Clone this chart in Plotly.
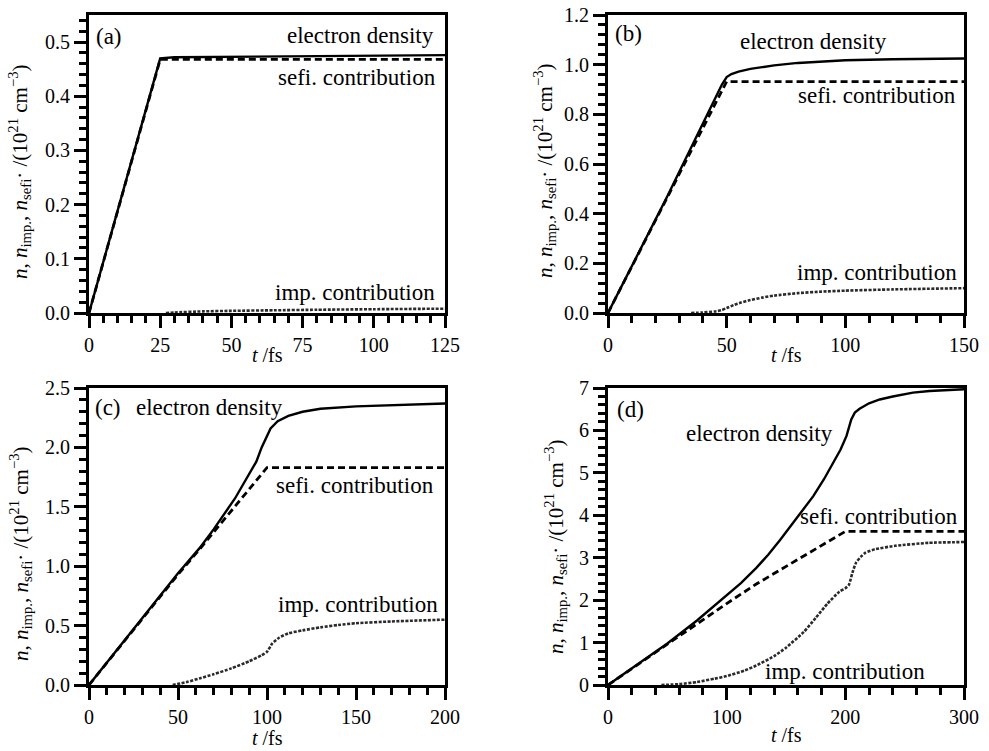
import plotly.graph_objects as go

# ---------------- data ----------------
# panel (a)
t_a_e = [0, 25, 30, 50, 75, 100, 125]
ne_a = [0, 0.470, 0.472, 0.473, 0.474, 0.475, 0.476]
t_a_s = [0, 25, 125]
sefi_a = [0, 0.468, 0.468]
t_a_i = [27, 30, 40, 50, 65, 80, 100, 125]
imp_a = [0, 0.001, 0.003, 0.004, 0.005, 0.006, 0.007, 0.008]

# panel (b)
t_b_e = [0, 25, 48, 50, 52, 55, 60, 70, 80, 90, 100, 120, 150]
ne_b = [0, 0.47, 0.92, 0.95, 0.962, 0.972, 0.983, 0.997, 1.007, 1.013, 1.018, 1.022, 1.025]
t_b_s = [0, 25, 50, 150]
sefi_b = [0, 0.466, 0.932, 0.932]
t_b_i = [35, 40, 45, 48, 50, 53, 56, 60, 65, 70, 80, 90, 100, 120, 150]
imp_b = [0, 0.002, 0.006, 0.012, 0.02, 0.032, 0.042, 0.052, 0.062, 0.07, 0.08, 0.086, 0.09, 0.095, 0.1]

# panel (c)
t_c_e = [0, 25, 50, 62, 70, 82, 90, 94, 97, 100, 102, 106, 112, 120, 130, 150, 175, 200]
ne_c = [0, 0.47, 0.94, 1.15, 1.31, 1.57, 1.77, 1.88, 2.00, 2.10, 2.16, 2.22, 2.265, 2.30,
        2.325, 2.345, 2.36, 2.37]
t_c_s = [0, 25, 50, 62, 100, 200]
sefi_c = [0, 0.47, 0.93, 1.14, 1.83, 1.83]
t_c_i = [47, 55, 62, 70, 80, 90, 97, 100, 103, 107, 112, 120, 130, 140, 150, 170, 200]
imp_c = [0, 0.025, 0.055, 0.09, 0.14, 0.20, 0.25, 0.28, 0.35, 0.40, 0.435, 0.46, 0.485,
         0.505, 0.52, 0.535, 0.55]

# panel (d)
t_d_e = [0, 25, 50, 75, 100, 112, 125, 135, 145, 160, 173, 182, 190, 196, 201, 203, 205,
         208, 212, 220, 229, 240, 257, 271, 300]
ne_d = [0, 0.48, 0.98, 1.52, 2.10, 2.40, 2.76, 3.07, 3.42, 3.98, 4.45, 4.85, 5.24, 5.55,
        5.87, 6.08, 6.26, 6.42, 6.51, 6.64, 6.73, 6.80, 6.89, 6.93, 6.97]
t_d_s = [0, 25, 50, 75, 100, 125, 150, 175, 200, 300]
sefi_d = [0, 0.48, 0.97, 1.45, 1.92, 2.38, 2.80, 3.20, 3.62, 3.62]
t_d_i = [45, 60, 75, 90, 100, 115, 125, 140, 150, 165, 175, 185, 195, 200, 203, 206, 209,
         213, 217, 225, 242, 270, 300]
imp_d = [0, 0.02, 0.07, 0.15, 0.21, 0.34, 0.46, 0.68, 0.88, 1.25, 1.58, 1.92, 2.20, 2.28,
         2.36, 2.65, 2.88, 3.02, 3.12, 3.20, 3.28, 3.35, 3.37]

panel_labels = ["(a)", "(b)", "(c)", "(d)"]
lbl_e = "electron density"
lbl_s = "sefi. contribution"
lbl_i = "imp. contribution"
x_title = "<i>t</i> /fs"
y_title = ("<i>n</i>, <i>n</i><sub>imp.</sub>, <i>n</i><sub>sefi</sub>\u00b7 "
           "/(10<sup>21</sup> cm<sup>\u22123</sup>)")

# ---------------- layout helpers ----------------
W, H = 989, 751
FONT = "Liberation Serif"


def px(x):
    return x / W


def py(y):
    return 1 - y / H


fig = go.Figure()

panels = [
    (t_a_e, ne_a, t_a_s, sefi_a, t_a_i, imp_a),
    (t_b_e, ne_b, t_b_s, sefi_b, t_b_i, imp_b),
    (t_c_e, ne_c, t_c_s, sefi_c, t_c_i, imp_c),
    (t_d_e, ne_d, t_d_s, sefi_d, t_d_i, imp_d),
]
for k, (te, e, ts, s, ti, i) in enumerate(panels):
    xa = "x" if k == 0 else f"x{k+1}"
    ya = "y" if k == 0 else f"y{k+1}"
    fig.add_trace(go.Scatter(x=ti, y=i, mode="lines", xaxis=xa, yaxis=ya,
                             line=dict(color="#2a2a2a", width=2.6, dash="3px,1.5px",
                                       shape="spline", smoothing=0.5),
                             name=lbl_i, showlegend=False))
    fig.add_trace(go.Scatter(x=ts, y=s, mode="lines", xaxis=xa, yaxis=ya,
                             line=dict(color="black", width=2.8, dash="7px,4px"),
                             name=lbl_s, showlegend=False))
    fig.add_trace(go.Scatter(x=te, y=e, mode="lines", xaxis=xa, yaxis=ya,
                             line=dict(color="black", width=2.4),
                             name=lbl_e, showlegend=False))


def make_axis(rng, dtick, mdtick, domain, anchor, fmt):
    return dict(
        range=rng, dtick=dtick, tick0=0, tickformat=fmt, domain=domain, anchor=anchor,
        ticks="outside", ticklen=12, tickwidth=3, tickcolor="black",
        showline=True, linewidth=3, linecolor="black", mirror=True,
        showgrid=False, zeroline=False,
        minor=dict(dtick=mdtick, tick0=0, ticks="outside", ticklen=7, tickwidth=2.5,
                   tickcolor="black", showgrid=False),
        tickfont=dict(family=FONT, size=20, color="black"),
        automargin=False,
    )


xdomL = [px(89), px(445)]
xdomR = [px(608), px(964)]
ydomT = [py(313), py(15)]
ydomB = [py(685), py(388)]

fig.update_layout(
    width=W, height=H,
    margin=dict(l=0, r=0, t=0, b=0),
    paper_bgcolor="white", plot_bgcolor="white",
    showlegend=False,
    xaxis=make_axis([0, 125], 25, 5, xdomL, "y", "d"),
    yaxis=make_axis([0, 0.55], 0.1, 0.02, ydomT, "x", ".1f"),
    xaxis2=make_axis([0, 150], 50, 10, xdomR, "y2", "d"),
    yaxis2=make_axis([0, 1.2], 0.2, 0.04, ydomT, "x2", ".1f"),
    xaxis3=make_axis([0, 200], 50, 10, xdomL, "y3", "d"),
    yaxis3=make_axis([0, 2.5], 0.5, 0.1, ydomB, "x3", ".1f"),
    xaxis4=make_axis([0, 300], 100, 20, xdomR, "y4", "d"),
    yaxis4=make_axis([0, 7], 1, 0.2, ydomB, "x4", "d"),
)

# x-axis titles, placed under each panel
for xc, yc in [(267, 355), (786, 355), (267, 738), (786, 735)]:
    fig.add_annotation(text=x_title, x=px(xc), y=py(yc), xref="paper", yref="paper",
                       xanchor="center", yanchor="middle", showarrow=False,
                       font=dict(family=FONT, size=20, color="black"))

# y-axis titles, rotated, left of each panel
for xc, yc in [(19, 172), (544, 171), (20, 554), (555, 547)]:
    fig.add_annotation(text=y_title, x=px(xc), y=py(yc), xref="paper", yref="paper",
                       xanchor="center", yanchor="middle", showarrow=False, textangle=-90,
                       font=dict(family=FONT, size=21, color="black"))

# text labels (pixel positions of the reference)
notes = [
    (panel_labels[0], 94, 37, "left"), (lbl_e, 436, 36, "right"),
    (lbl_s, 438, 78, "right"), (lbl_i, 437, 293, "right"),
    (panel_labels[1], 613, 33, "left"), (lbl_e, 738, 42, "left"),
    (lbl_s, 958, 96, "right"), (lbl_i, 959, 272, "right"),
    (panel_labels[2], 93, 407, "left"), (lbl_e, 134, 407, "left"),
    (lbl_s, 436, 485, "right"), (lbl_i, 440, 604, "right"),
    (panel_labels[3], 615, 409, "left"), (lbl_e, 684, 433, "left"),
    (lbl_s, 960, 516, "right"), (lbl_i, 763, 671, "left"),
]
for txt, x, y, anc in notes:
    fig.add_annotation(text=txt, x=px(x), y=py(y), xref="paper", yref="paper",
                       xanchor=anc, yanchor="middle", showarrow=False,
                       font=dict(family=FONT, size=23, color="black"))

# remove the browser's default page margin so the figure sits at the page origin
fig.write_html("out.html", config={"displayModeBar": False},
               post_script="document.body.style.margin='0px';")
